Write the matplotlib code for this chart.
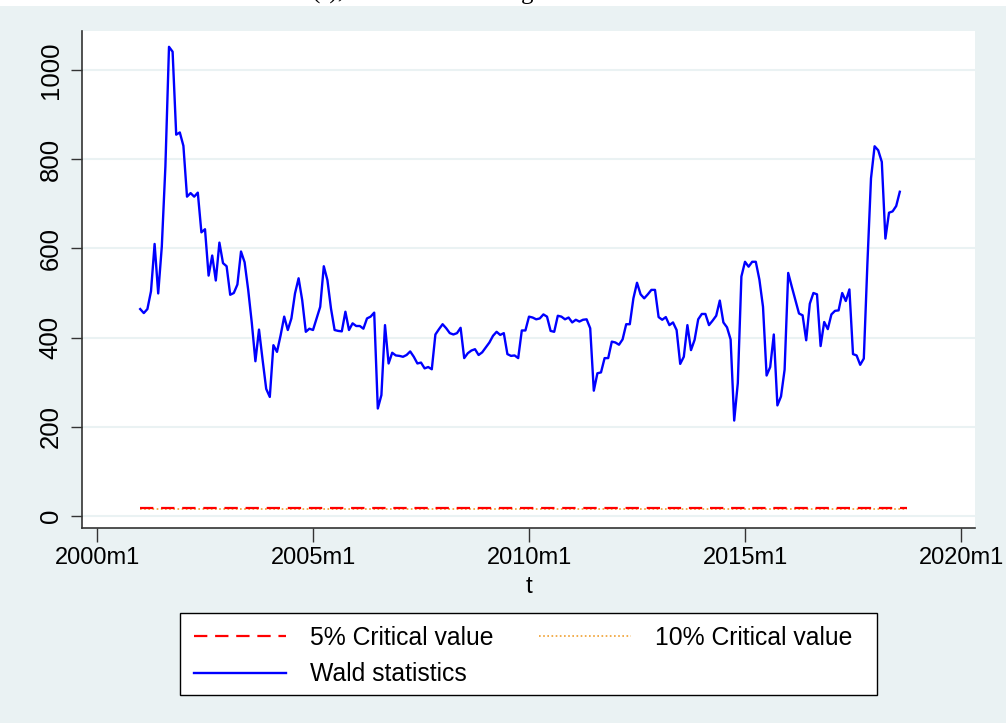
import matplotlib
matplotlib.use("Agg")
import matplotlib.pyplot as plt
from matplotlib.patches import Rectangle
from matplotlib.lines import Line2D
import numpy as np

# monthly index: months since 2000m1, series starts at 2001m1
start_month = 12
wald = [464, 455, 464, 504, 610, 499, 604, 784, 1052, 1041, 855, 860,
        830, 716, 724, 716, 725, 636, 643, 539, 584, 528, 613, 567,
        560, 496, 500, 519, 593, 569, 507, 433, 347, 418, 350, 285,
        267, 383, 368, 405, 447, 417, 443, 499, 533, 484, 413, 420,
        417, 443, 469, 560, 529, 465, 417, 415, 414, 458, 417, 432,
        426, 426, 420, 443, 447, 456, 241, 271, 428, 342, 366, 360,
        359, 357, 361, 369, 357, 342, 344, 331, 334, 329, 407, 419,
        430, 421, 410, 407, 410, 422, 354, 365, 371, 374, 361, 367,
        378, 389, 404, 413, 406, 410, 363, 359, 360, 354, 416, 416,
        447, 445, 441, 443, 452, 447, 415, 413, 449, 447, 441, 445,
        434, 440, 436, 440, 441, 421, 281, 320, 322, 354, 354, 391,
        389, 384, 396, 430, 430, 488, 523, 497, 488, 497, 507, 507,
        446, 440, 446, 428, 434, 417, 341, 357, 428, 372, 395, 441,
        453, 453, 428, 438, 449, 483, 434, 423, 396, 214, 298, 537,
        570, 559, 570, 570, 530, 469, 315, 334, 407, 248, 268, 328,
        545, 514, 484, 454, 450, 394, 476, 500, 497, 381, 435, 419,
        452, 460, 461, 500, 482, 508, 363, 360, 339, 353, 566, 757,
        829, 820, 794, 622, 680, 683, 695, 727]
crit_5 = 17.6
crit_10 = 15.4
crit_len = 214

tick_months = [0, 60, 120, 180, 240]
tick_labels = ["2000m1", "2005m1", "2010m1", "2015m1", "2020m1"]
yticks = [0, 200, 400, 600, 800, 1000]

bg = "#EAF2F3"
plt.rcParams['font.family'] = ['Liberation Sans', 'DejaVu Sans']

fig = plt.figure(figsize=(10.06, 7.23), dpi=100, facecolor=bg)
# white strip at the top with the clipped caption of the source page
fig.patches.append(Rectangle((0, 1 - 6 / 723), 1, 6 / 723, transform=fig.transFigure,
                             facecolor="white", edgecolor="none", zorder=0))
fig.text(312 / 1006, 1 + 1 / 723, "(τ),", fontsize=18, family="Liberation Serif", va="baseline")
fig.text(521 / 1006, 1 + 1 / 723, "g", fontsize=18, family="Liberation Serif", va="baseline")

ax = fig.add_axes([82 / 1006, 1 - 528 / 723, (975 - 82) / 1006, (528 - 30.5) / 723])
ax.set_facecolor("white")

t = np.arange(start_month, start_month + len(wald))
tc = np.arange(start_month, start_month + crit_len)

ax.plot(tc, [crit_10] * len(tc), color="#F0A030", lw=1.2, ls=(0, (1, 1.5)), zorder=3)
ax.plot(tc, [crit_5] * len(tc), color="#FF0000", lw=1.6, ls=(0, (6, 3.5)), zorder=4)
ax.plot(t, wald, color="#0000FF", lw=1.7, zorder=5)

ax.set_xlim((82 - 97) / 3.6, (975 - 97) / 3.6)
ax.set_ylim((516 - 528) / 0.446, (516 - 30.5) / 0.446)

ax.set_yticks(yticks)
ax.set_yticklabels([str(v) for v in yticks], rotation=90, va="center", fontsize=18.5)
ax.set_xticks(tick_months)
ax.set_xticklabels(tick_labels, fontsize=17)
ax.tick_params(axis="y", length=8, width=1, color="#333333", pad=6)
ax.tick_params(axis="x", length=10, width=1, color="#333333", pad=4)
ax.grid(axis="y", color=bg, lw=1.5, zorder=0)
ax.set_axisbelow(True)
for s in ["top", "right"]:
    ax.spines[s].set_visible(False)
for s in ["left", "bottom"]:
    ax.spines[s].set_color("#333333")
    ax.spines[s].set_linewidth(1.2)
ax.set_xlabel("t", fontsize=17.5, labelpad=5)

# legend box drawn separately (Stata pads the right side more)
fig.patches.append(Rectangle((180 / 1006, 1 - 695 / 723), 697 / 1006, 82 / 723,
                             transform=fig.transFigure, facecolor="white",
                             edgecolor="black", lw=1.0, zorder=1))
handles = [Line2D([], [], color="#FF0000", lw=1.6, ls=(0, (6, 3.5))),
           Line2D([], [], color="#0000FF", lw=1.7),
           Line2D([], [], color="#F0A030", lw=1.2, ls=(0, (1, 1.5)))]
labels = ["5% Critical value", "Wald statistics", "10% Critical value"]
leg = fig.legend(handles, labels, ncol=2, loc="center",
                 bbox_to_anchor=(523 / 1006, 1 - 656 / 723),
                 fontsize=17.8, handlelength=3.72, handletextpad=0.97,
                 columnspacing=1.86, borderpad=0.5, labelspacing=0.5,
                 frameon=False)

fig.savefig("out.png", dpi=100, facecolor=bg)
